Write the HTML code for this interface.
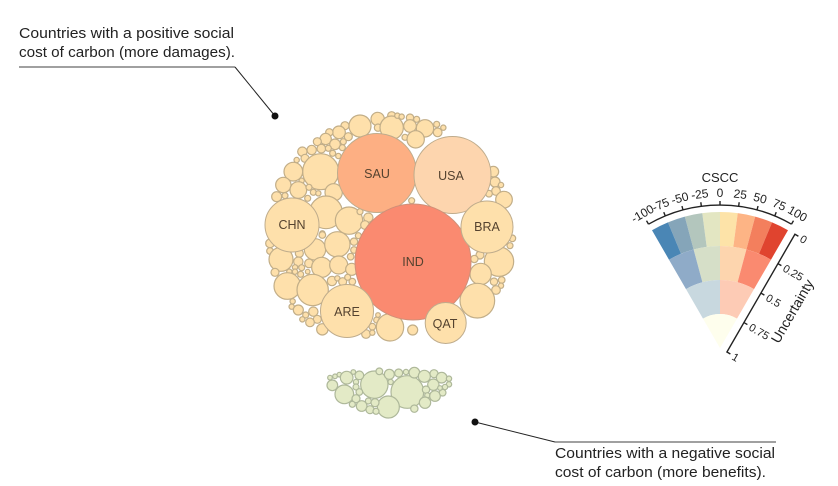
<!DOCTYPE html>
<html><head><meta charset="utf-8"><style>
html,body{margin:0;padding:0;background:#fff;width:838px;height:486px;overflow:hidden}
svg{display:block;font-family:"Liberation Sans",sans-serif}
.y circle{fill:#fee0ab;stroke:#c2ae88;stroke-width:3.6}
.g circle{fill:#e3eac6;stroke:#aeb89a;stroke-width:3.6}
.lb{font-size:12.5px;fill:#54422f;text-anchor:middle}
.an{font-size:15px;fill:#222}
.ax{stroke:#222;stroke-width:1.4;fill:none}
.tk{font-size:12px;fill:#222;text-anchor:middle}
.tu{font-size:11px;fill:#222}
</style></head><body>
<svg width="838" height="486" viewBox="0 0 838 486" xmlns="http://www.w3.org/2000/svg">
<rect width="838" height="486" fill="#fff"/>
<g class="y" transform="translate(260 105) scale(.33333)">
<circle cx="300" cy="63" r="33"/><circle cx="353" cy="42" r="20"/><circle cx="354" cy="68" r="11"/><circle cx="255" cy="62" r="12"/><circle cx="237" cy="82" r="19"/><circle cx="208" cy="82" r="11"/><circle cx="265" cy="95" r="12"/><circle cx="197" cy="102" r="17"/><circle cx="172" cy="110" r="12"/><circle cx="225" cy="118" r="16"/><circle cx="250" cy="110" r="9"/><circle cx="155" cy="135" r="14"/><circle cx="184" cy="131" r="13"/><circle cx="205" cy="130" r="9"/><circle cx="218" cy="145" r="9"/><circle cx="247" cy="128" r="9"/><circle cx="235" cy="153" r="8"/><circle cx="127" cy="140" r="14"/><circle cx="135" cy="160" r="12"/><circle cx="110" cy="165" r="8"/><circle cx="182" cy="200" r="54"/><circle cx="100" cy="200" r="28"/><circle cx="125" cy="227" r="8"/><circle cx="70" cy="240" r="23"/><circle cx="115" cy="255" r="25"/><circle cx="147" cy="247" r="9"/><circle cx="160" cy="262" r="9"/><circle cx="175" cy="265" r="8"/><circle cx="143" cy="280" r="9"/><circle cx="75" cy="272" r="9"/><circle cx="50" cy="275" r="15"/><circle cx="221" cy="262" r="26"/><circle cx="198" cy="322" r="49"/><circle cx="267" cy="347" r="41"/><circle cx="300" cy="320" r="9"/><circle cx="325" cy="338" r="14"/><circle cx="315" cy="360" r="13"/><circle cx="187" cy="385" r="8"/>
</g>
<g class="y" transform="translate(390 105) scale(.33333)">
<circle cx="5" cy="32" r="12"/><circle cx="5" cy="68" r="35"/><circle cx="22" cy="32" r="8"/><circle cx="35" cy="35" r="8"/><circle cx="60" cy="38" r="11"/><circle cx="60" cy="63" r="19"/><circle cx="80" cy="43" r="9"/><circle cx="105" cy="70" r="26"/><circle cx="140" cy="58" r="9"/><circle cx="160" cy="68" r="8"/><circle cx="143" cy="82" r="13"/><circle cx="45" cy="97" r="9"/><circle cx="77" cy="103" r="26"/><circle cx="65" cy="287" r="9"/><circle cx="310" cy="200" r="16"/><circle cx="315" cy="231" r="15"/><circle cx="333" cy="240" r="8"/><circle cx="318" cy="258" r="13"/><circle cx="297" cy="266" r="10"/><circle cx="342" cy="284" r="25"/>
</g>
<g class="y" transform="translate(260 230) scale(.33333)">
<circle cx="165" cy="58" r="32"/><circle cx="232" cy="43" r="38"/><circle cx="30" cy="40" r="13"/><circle cx="30" cy="63" r="10"/><circle cx="63" cy="88" r="36"/><circle cx="118" cy="70" r="12"/><circle cx="147" cy="100" r="13"/><circle cx="115" cy="95" r="14"/><circle cx="105" cy="112" r="8"/><circle cx="125" cy="113" r="9"/><circle cx="185" cy="112" r="30"/><circle cx="236" cy="105" r="27"/><circle cx="275" cy="118" r="18"/><circle cx="272" cy="80" r="10"/><circle cx="282" cy="35" r="11"/><circle cx="295" cy="17" r="9"/><circle cx="187" cy="15" r="10"/><circle cx="282" cy="60" r="10"/><circle cx="45" cy="127" r="12"/><circle cx="88" cy="125" r="8"/><circle cx="105" cy="125" r="8"/><circle cx="122" cy="133" r="9"/><circle cx="143" cy="125" r="7"/><circle cx="82" cy="168" r="40"/><circle cx="158" cy="180" r="47"/><circle cx="216" cy="153" r="14"/><circle cx="232" cy="145" r="8"/><circle cx="248" cy="155" r="12"/><circle cx="263" cy="142" r="9"/><circle cx="277" cy="155" r="10"/><circle cx="98" cy="214" r="8"/><circle cx="95" cy="230" r="8"/><circle cx="115" cy="240" r="15"/><circle cx="160" cy="245" r="14"/><circle cx="137" cy="255" r="9"/><circle cx="127" cy="268" r="8"/><circle cx="172" cy="268" r="12"/><circle cx="150" cy="277" r="13"/><circle cx="187" cy="298" r="17"/><circle cx="318" cy="312" r="13"/><circle cx="337" cy="290" r="10"/><circle cx="337" cy="308" r="8"/><circle cx="350" cy="270" r="9"/><circle cx="354" cy="255" r="7"/>
</g>
<g class="y" transform="translate(390 230) scale(.33333)">
<circle cx="270" cy="75" r="12"/><circle cx="253" cy="87" r="11"/><circle cx="327" cy="95" r="44"/><circle cx="367" cy="25" r="10"/><circle cx="360" cy="47" r="9"/><circle cx="272" cy="132" r="32"/><circle cx="312" cy="155" r="11"/><circle cx="335" cy="150" r="10"/><circle cx="333" cy="167" r="8"/><circle cx="318" cy="180" r="13"/><circle cx="262" cy="212" r="52"/><circle cx="68" cy="300" r="15"/><circle cx="0" cy="292" r="41"/>
</g>
<g stroke="#bfac8c" stroke-width="1">
<circle cx="377" cy="173" r="39.5" fill="#fdaf83"/>
<circle cx="452.5" cy="175" r="38.5" fill="#fdd5ae"/>
<circle cx="413" cy="262" r="58" fill="#fa8a70" stroke="#d09078"/>
<circle cx="292" cy="225" r="27" fill="#fee0ab"/>
<circle cx="487" cy="227" r="26" fill="#fee0ab"/>
<circle cx="347" cy="311" r="26.5" fill="#fee0ab"/>
<circle cx="445.7" cy="323" r="20.5" fill="#fee0ab"/>
</g>
<text class="lb" x="377" y="178">SAU</text>
<text class="lb" x="451" y="180">USA</text>
<text class="lb" x="413" y="266">IND</text>
<text class="lb" x="292" y="229">CHN</text>
<text class="lb" x="487" y="231">BRA</text>
<text class="lb" x="347" y="316">ARE</text>
<text class="lb" x="445" y="328">QAT</text>
<g class="g" transform="translate(320 362) scale(.33333)">
<circle cx="163" cy="68" r="41"/><circle cx="262" cy="90" r="49"/><circle cx="205" cy="135" r="33"/><circle cx="73" cy="97" r="28"/><circle cx="37" cy="70" r="16"/><circle cx="30" cy="47" r="7"/><circle cx="45" cy="43" r="7"/><circle cx="58" cy="38" r="7"/><circle cx="80" cy="47" r="19"/><circle cx="100" cy="30" r="7"/><circle cx="118" cy="40" r="13"/><circle cx="108" cy="60" r="8"/><circle cx="108" cy="75" r="9"/><circle cx="118" cy="90" r="10"/><circle cx="108" cy="110" r="12"/><circle cx="97" cy="127" r="9"/><circle cx="125" cy="132" r="16"/><circle cx="145" cy="117" r="9"/><circle cx="165" cy="122" r="12"/><circle cx="150" cy="143" r="12"/><circle cx="168" cy="148" r="9"/><circle cx="178" cy="28" r="10"/><circle cx="208" cy="37" r="15"/><circle cx="212" cy="60" r="8"/><circle cx="236" cy="33" r="12"/><circle cx="258" cy="30" r="8"/><circle cx="283" cy="32" r="16"/><circle cx="313" cy="43" r="18"/><circle cx="342" cy="35" r="12"/><circle cx="365" cy="47" r="16"/><circle cx="387" cy="50" r="8"/><circle cx="387" cy="67" r="8"/><circle cx="340" cy="68" r="17"/><circle cx="318" cy="83" r="11"/><circle cx="322" cy="100" r="8"/><circle cx="345" cy="102" r="16"/><circle cx="315" cy="122" r="17"/><circle cx="283" cy="140" r="11"/><circle cx="368" cy="92" r="10"/><circle cx="375" cy="75" r="8"/><circle cx="360" cy="78" r="7"/>
</g>
<text class="an" x="19" y="38" textLength="215" lengthAdjust="spacingAndGlyphs">Countries with a positive social</text>
<text class="an" x="19" y="57" textLength="216" lengthAdjust="spacingAndGlyphs">cost of carbon (more damages).</text>
<line x1="19" y1="67" x2="235" y2="67" stroke="#808080" stroke-width="1.5"/>
<line x1="235" y1="67" x2="275" y2="116" stroke="#222" stroke-width="1"/>
<circle cx="275" cy="116" r="3.5" fill="#111"/>
<text class="an" x="555" y="458" textLength="220" lengthAdjust="spacingAndGlyphs">Countries with a negative social</text>
<text class="an" x="555" y="477" textLength="211" lengthAdjust="spacingAndGlyphs">cost of carbon (more benefits).</text>
<line x1="555" y1="442" x2="776" y2="442" stroke="#808080" stroke-width="1.5"/>
<line x1="555" y1="442" x2="475" y2="422" stroke="#222" stroke-width="1"/>
<circle cx="475" cy="422" r="3.5" fill="#111"/>
<g transform="translate(720 348)">
<path fill="#fde3a8" d="M0-136A136 136 0 0 1 17.75-134.83L13.31-101.13A102 102 0 0 0 0-102Z"/>
<path fill="#fdb485" d="M17.75-134.83A136 136 0 0 1 35.2-131.4L26.4-98.5A102 102 0 0 0 13.31-101.13Z"/>
<path fill="#f37f5d" d="M35.2-131.4A136 136 0 0 1 52.05-125.65L39.04-94.24A102 102 0 0 0 26.4-98.5Z"/>
<path fill="#e0442f" d="M52.05-125.65A136 136 0 0 1 68-117.8L51-88.3A102 102 0 0 0 39.04-94.24Z"/>
<path fill="#e3e6c2" d="M0-136A136 136 0 0 0 -17.75-134.83L-13.31-101.13A102 102 0 0 1 0-102Z"/>
<path fill="#b3c6bd" d="M-17.75-134.83A136 136 0 0 0 -35.2-131.4L-26.4-98.5A102 102 0 0 1 -13.31-101.13Z"/>
<path fill="#85a5b9" d="M-35.2-131.4A136 136 0 0 0 -52.05-125.65L-39.04-94.24A102 102 0 0 1 -26.4-98.5Z"/>
<path fill="#4a86b5" d="M-52.05-125.65A136 136 0 0 0 -68-117.8L-51-88.3A102 102 0 0 1 -39.04-94.24Z"/>
<path fill="#fdd5ae" d="M0-102A102 102 0 0 1 26.4-98.5L17.6-65.7A68 68 0 0 0 0-68Z"/>
<path fill="#fa8a70" d="M26.4-98.5A102 102 0 0 1 51-88.3L34-58.9A68 68 0 0 0 17.6-65.7Z"/>
<path fill="#d6dfc8" d="M0-102A102 102 0 0 0 -26.4-98.5L-17.6-65.7A68 68 0 0 1 0-68Z"/>
<path fill="#8fabc8" d="M-26.4-98.5A102 102 0 0 0 -51-88.3L-34-58.9A68 68 0 0 1 -17.6-65.7Z"/>
<path fill="#fdcbb5" d="M0-68A68 68 0 0 1 34-58.9L17-29.4A34 34 0 0 0 0-34Z"/>
<path fill="#c8d8df" d="M0-68A68 68 0 0 0 -34-58.9L-17-29.4A34 34 0 0 1 0-34Z"/>
<path fill="#fefeed" d="M-17-29.4A34 34 0 0 1 17-29.4L0 0Z"/>
<path class="ax" d="M-71.5-123.8A143 143 0 0 1 71.5-123.8"/>
<g class="ax">
<line transform="rotate(-30)" y1="-143" y2="-147"/><line transform="rotate(-22.5)" y1="-143" y2="-147"/><line transform="rotate(-15)" y1="-143" y2="-147"/><line transform="rotate(-7.5)" y1="-143" y2="-147"/><line y1="-143" y2="-147"/><line transform="rotate(7.5)" y1="-143" y2="-147"/><line transform="rotate(15)" y1="-143" y2="-147"/><line transform="rotate(22.5)" y1="-143" y2="-147"/><line transform="rotate(30)" y1="-143" y2="-147"/>
</g>
<text class="tk" y="-151" transform="rotate(-30)">-100</text>
<text class="tk" y="-151" transform="rotate(-22.5)">-75</text>
<text class="tk" y="-151" transform="rotate(-15)">-50</text>
<text class="tk" y="-151" transform="rotate(-7.5)">-25</text>
<text class="tk" y="-151">0</text>
<text class="tk" y="-151" transform="rotate(7.5)">25</text>
<text class="tk" y="-151" transform="rotate(15)">50</text>
<text class="tk" y="-151" transform="rotate(22.5)">75</text>
<text class="tk" y="-151" transform="rotate(30)">100</text>
<g transform="rotate(30)">
<path class="ax" d="M12-136H8V0H12M8-102H12M8-68H12M8-34H12"/>
<text class="tu" x="15" y="-132">0</text>
<text class="tu" x="15" y="-98">0.25</text>
<text class="tu" x="15" y="-64">0.5</text>
<text class="tu" x="15" y="-30">0.75</text>
<text class="tu" x="15" y="4">1</text>
<text transform="translate(49 -68) rotate(-90)" font-size="14" fill="#222" text-anchor="middle">Uncertainty</text>
</g>
</g>
<text x="720" y="182" font-size="13" fill="#222" text-anchor="middle">CSCC</text>
</svg>
</body></html>
